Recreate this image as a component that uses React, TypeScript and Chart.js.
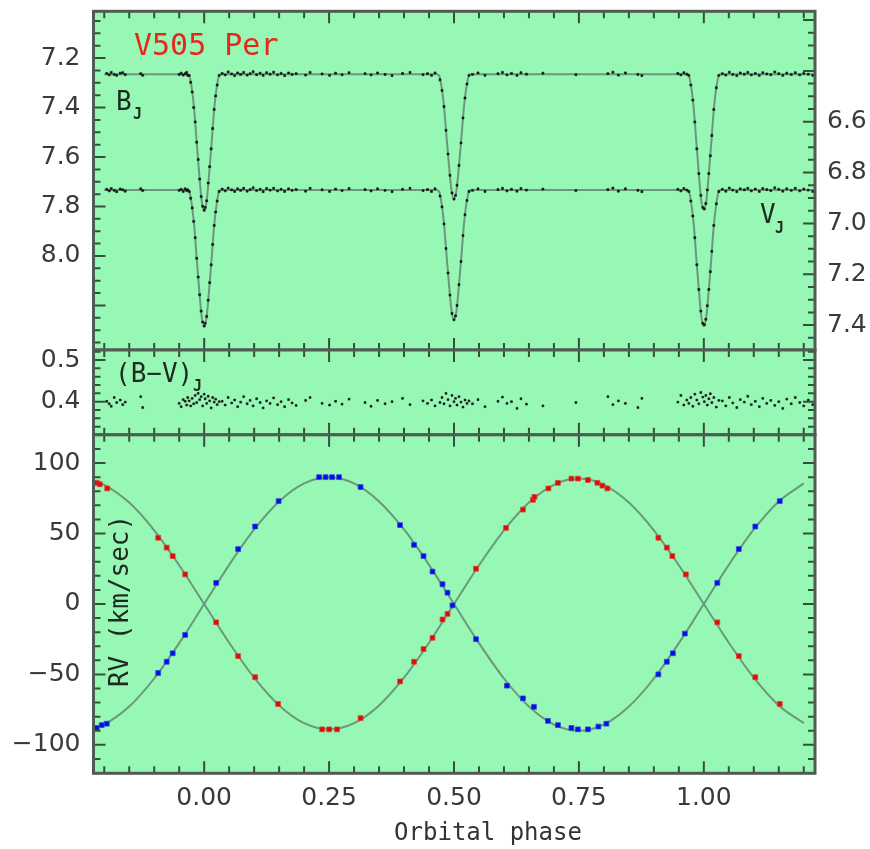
import React, { useEffect, useRef } from "react";
import { Chart, registerables } from "chart.js";

Chart.register(...registerables);

// ---------------- data ----------------
const phaseMin = -0.2215;
const phaseMax = 1.2225;
const phaseTicks = [0, 0.25, 0.5, 0.75, 1.0];

// light curves (top panel)
const bAxisMin = 7.011;
const bAxisMax = 8.38;
const bTicks = [7.2, 7.4, 7.6, 7.8, 8.0];
const vAxisMin = 6.1655;
const vAxisMax = 7.498;
const vTicks = [6.6, 6.8, 7.0, 7.2, 7.4];

const lcPhase = [
  -0.195, -0.19, -0.186, -0.18, -0.175, -0.168, -0.163, -0.158, -0.127, -0.123,
  -0.05, -0.046, -0.042, -0.038, -0.035, -0.033,
  -0.03, -0.027, -0.024, -0.021, -0.018, -0.015, -0.012, -0.009, -0.006, -0.003, 0, 0.002, 0.005, 0.008, 0.011, 0.014, 0.017, 0.02, 0.023, 0.026, 0.03,
  0.036, 0.042, 0.048, 0.055, 0.061, 0.067, 0.073, 0.079, 0.086, 0.092, 0.098, 0.105, 0.112, 0.118, 0.125, 0.132, 0.139, 0.147, 0.154, 0.161, 0.169, 0.176, 0.184, 0.203, 0.212, 0.236, 0.251, 0.263, 0.276, 0.29, 0.322, 0.334, 0.347, 0.362, 0.376, 0.397, 0.412, 0.438, 0.447, 0.455, 0.462,
  0.472, 0.476, 0.48, 0.484, 0.488, 0.492, 0.496, 0.5, 0.503, 0.506, 0.51, 0.514, 0.518, 0.522, 0.526, 0.53,
  0.537, 0.548, 0.562, 0.588, 0.597, 0.606, 0.615, 0.626, 0.634, 0.645, 0.678, 0.744, 0.808, 0.818, 0.829, 0.843, 0.868, 0.876, 0.948, 0.954, 0.96, 0.966,
  0.97, 0.974, 0.978, 0.982, 0.986, 0.99, 0.994, 0.998, 1.001, 1.004, 1.007, 1.01, 1.013, 1.016, 1.02, 1.025, 1.03,
  1.037, 1.044, 1.051, 1.058, 1.066, 1.073, 1.081, 1.088, 1.095, 1.103, 1.111, 1.118, 1.126, 1.134, 1.142, 1.15, 1.158, 1.166, 1.175, 1.183, 1.192, 1.2, 1.209, 1.218,
];

const bMag = [
  7.262, 7.268, 7.258, 7.266, 7.27, 7.261, 7.259, 7.267, 7.263, 7.27,
  7.266, 7.261, 7.269, 7.263, 7.258, 7.27,
  7.27, 7.298, 7.337, 7.4, 7.458, 7.54, 7.61, 7.689, 7.76, 7.799, 7.815, 7.804, 7.777, 7.705, 7.639, 7.567, 7.485, 7.408, 7.353, 7.309, 7.27,
  7.262, 7.268, 7.256, 7.264, 7.271, 7.26, 7.266, 7.258, 7.269, 7.263, 7.255, 7.267, 7.261, 7.27, 7.259, 7.265, 7.257, 7.268, 7.262, 7.271, 7.26, 7.266, 7.263, 7.269, 7.258, 7.264, 7.27, 7.261, 7.267, 7.259, 7.263, 7.268, 7.26, 7.266, 7.271, 7.262, 7.258, 7.267, 7.263, 7.27, 7.26,
  7.288, 7.331, 7.396, 7.492, 7.588, 7.674, 7.745, 7.77, 7.755, 7.714, 7.634, 7.543, 7.442, 7.361, 7.305, 7.27,
  7.266, 7.26, 7.27, 7.263, 7.258, 7.268, 7.262, 7.27, 7.259, 7.265, 7.261, 7.267, 7.263, 7.257, 7.269, 7.26, 7.266, 7.271, 7.262, 7.268, 7.259, 7.265,
  7.27, 7.309, 7.37, 7.458, 7.567, 7.667, 7.755, 7.804, 7.81, 7.788, 7.733, 7.667, 7.595, 7.513, 7.408, 7.32, 7.27,
  7.263, 7.269, 7.257, 7.266, 7.271, 7.26, 7.265, 7.258, 7.268, 7.262, 7.27, 7.259, 7.264, 7.267, 7.256, 7.263, 7.27, 7.261, 7.266, 7.259, 7.268, 7.262, 7.265, 7.27,
];

const vMag = [
  6.866, 6.872, 6.863, 6.87, 6.875, 6.865, 6.868, 6.873, 6.864, 6.871,
  6.87, 6.866, 6.874, 6.864, 6.871, 6.868,
  6.874, 6.901, 6.939, 6.992, 7.056, 7.137, 7.211, 7.281, 7.345, 7.388, 7.404, 7.393, 7.366, 7.302, 7.233, 7.163, 7.083, 7.008, 6.955, 6.912, 6.874,
  6.865, 6.872, 6.861, 6.868, 6.874, 6.864, 6.87, 6.862, 6.873, 6.867, 6.86, 6.871, 6.866, 6.875, 6.863, 6.869, 6.862, 6.872, 6.866, 6.874, 6.864, 6.87, 6.867, 6.873, 6.862, 6.868, 6.874, 6.865, 6.871, 6.863, 6.867, 6.872, 6.864, 6.87, 6.875, 6.866, 6.862, 6.871, 6.867, 6.874, 6.864,
  6.892, 6.935, 7.002, 7.099, 7.195, 7.282, 7.354, 7.379, 7.364, 7.323, 7.241, 7.15, 7.048, 6.966, 6.91, 6.874,
  6.87, 6.864, 6.874, 6.867, 6.862, 6.872, 6.866, 6.873, 6.863, 6.869, 6.865, 6.871, 6.867, 6.861, 6.873, 6.864, 6.87, 6.875, 6.866, 6.872, 6.863, 6.869,
  6.874, 6.912, 6.971, 7.056, 7.163, 7.26, 7.345, 7.393, 7.399, 7.377, 7.324, 7.26, 7.19, 7.11, 7.008, 6.923, 6.874,
  6.866, 6.873, 6.861, 6.869, 6.875, 6.864, 6.868, 6.862, 6.872, 6.865, 6.874, 6.863, 6.867, 6.871, 6.86, 6.866, 6.873, 6.864, 6.87, 6.862, 6.872, 6.865, 6.869, 6.874,
];

// (B-V) colour index (middle panel)
const bvAxisMin = 0.3206;
const bvAxisMax = 0.524;
const bvTicks = [0.4, 0.5];
const bvIndex = [
  0.401, 0.395, 0.389, 0.41, 0.398, 0.404, 0.393, 0.399, 0.412, 0.386,
  0.396, 0.388, 0.405, 0.401, 0.392, 0.41,
  0.402, 0.39, 0.408, 0.395, 0.415, 0.398, 0.42, 0.405, 0.412, 0.39, 0.418, 0.407, 0.396, 0.413, 0.402, 0.385, 0.41, 0.399, 0.406, 0.393, 0.4,
  0.401, 0.392, 0.41, 0.397, 0.404, 0.388, 0.399, 0.412, 0.395, 0.403, 0.39, 0.407, 0.398, 0.385, 0.402, 0.396, 0.409, 0.393, 0.4, 0.388, 0.405, 0.397, 0.391, 0.403, 0.41, 0.396, 0.392, 0.401, 0.394, 0.406, 0.398, 0.389, 0.403, 0.395, 0.4, 0.408, 0.393, 0.402, 0.396, 0.404, 0.39,
  0.398, 0.41, 0.395, 0.42, 0.405, 0.39, 0.415, 0.4, 0.408, 0.392, 0.412, 0.399, 0.387, 0.404, 0.396, 0.402,
  0.395, 0.405, 0.388, 0.401, 0.411, 0.396, 0.4, 0.384, 0.407, 0.394, 0.39, 0.398, 0.412, 0.393, 0.402, 0.396, 0.386, 0.408, 0.399, 0.415, 0.392, 0.404,
  0.396, 0.41, 0.389, 0.418, 0.404, 0.395, 0.422, 0.411, 0.4, 0.415, 0.392, 0.407, 0.419, 0.398, 0.41, 0.387, 0.403,
  0.402, 0.39, 0.41, 0.397, 0.386, 0.405, 0.399, 0.413, 0.393, 0.401, 0.388, 0.408, 0.396, 0.403, 0.391, 0.4, 0.384, 0.406, 0.395, 0.41, 0.398, 0.39, 0.404, 0.393,
];

// fitted light-curve models
const lcModelPhase = [
  -0.2,
  -0.035, -0.03, -0.025, -0.02, -0.015, -0.01, -0.005, 0, 0.005, 0.01, 0.015, 0.02, 0.025, 0.03, 0.035,
  0.465, 0.47, 0.475, 0.48, 0.485, 0.49, 0.495, 0.5, 0.505, 0.51, 0.515, 0.52, 0.525, 0.53, 0.535,
  0.965, 0.97, 0.975, 0.98, 0.985, 0.99, 0.995, 1.0, 1.005, 1.01, 1.015, 1.02, 1.025, 1.03, 1.035,
  1.2225,
];
const bModel = [
  7.265,
  7.265, 7.271, 7.32, 7.408, 7.54, 7.667, 7.777, 7.815, 7.777, 7.667, 7.54, 7.408, 7.32, 7.271, 7.265,
  7.265, 7.27, 7.316, 7.396, 7.518, 7.634, 7.735, 7.77, 7.735, 7.634, 7.518, 7.396, 7.316, 7.27, 7.265,
  7.265, 7.271, 7.32, 7.408, 7.54, 7.667, 7.777, 7.812, 7.777, 7.667, 7.54, 7.408, 7.32, 7.271, 7.265,
  7.265,
];
const vModel = [
  6.869,
  6.869, 6.874, 6.923, 7.008, 7.137, 7.26, 7.367, 7.404, 7.367, 7.26, 7.137, 7.008, 6.923, 6.874, 6.869,
  6.869, 6.874, 6.92, 7.002, 7.124, 7.241, 7.343, 7.379, 7.343, 7.241, 7.124, 7.002, 6.92, 6.874, 6.869,
  6.869, 6.874, 6.923, 7.008, 7.137, 7.26, 7.367, 7.404, 7.367, 7.26, 7.137, 7.008, 6.923, 6.874, 6.869,
  6.869,
];

// radial velocities (bottom panel)
const rvAxisMin = -120.2;
const rvAxisMax = 120.1;
const rvTicks = [-100, -50, 0, 50, 100];

const rvPrimaryPhase = [
  -0.215, -0.209, -0.194, -0.092, -0.075, -0.063, -0.038, 0.024, 0.068, 0.102, 0.148,
  0.236, 0.25, 0.266, 0.313, 0.392, 0.42, 0.439, 0.457, 0.477, 0.487,
  0.544, 0.604, 0.638, 0.658, 0.661, 0.689, 0.708, 0.735, 0.748, 0.768, 0.787, 0.797, 0.807,
  0.909, 0.926, 0.937, 0.964, 1.027, 1.07, 1.103, 1.152,
];
const rvPrimary = [
  86, 85, 82, 47, 40, 34, 21, -13, -37, -52, -71,
  -89, -89, -89, -81, -55, -41, -32, -24, -11, -7,
  25, 54, 67, 74, 76, 82, 86, 89, 89, 88, 86, 84, 82,
  47, 40, 34, 21, -13, -37, -52, -71,
];
const rvSecondaryPhase = [
  -0.215, -0.205, -0.195, -0.092, -0.075, -0.063, -0.038, 0.024, 0.068, 0.102, 0.149,
  0.23, 0.243, 0.256, 0.27, 0.313, 0.392, 0.42, 0.439, 0.457, 0.477, 0.487, 0.497,
  0.544, 0.606, 0.638, 0.66, 0.688, 0.708, 0.735, 0.748, 0.768, 0.789, 0.805,
  0.909, 0.926, 0.938, 0.962, 1.027, 1.07, 1.103, 1.152,
];
const rvSecondary = [
  -88, -86, -85, -49, -41, -35, -22, 15, 39, 55, 73,
  90, 90, 90, 90, 83, 56, 42, 34, 23, 14, 8, -1,
  -25, -58, -67, -73, -83, -86, -88, -89, -89, -87, -85,
  -50, -41, -35, -21, 15, 39, 55, 73,
];

const rvModelPhase = [
  -0.22, -0.2, -0.15, -0.1, -0.05, 0, 0.05, 0.1, 0.15, 0.2, 0.25, 0.3, 0.35, 0.4, 0.45, 0.5,
  0.55, 0.6, 0.65, 0.7, 0.75, 0.8, 0.85, 0.9, 0.95, 1.0, 1.05, 1.1, 1.15, 1.2,
];
const rvModelPrimary = [
  87.4, 84.6, 72.0, 52.3, 27.5, 0, -27.5, -52.3, -72.0, -84.6, -89, -84.6, -72.0, -52.3, -27.5, 0,
  27.5, 52.3, 72.0, 84.6, 89, 84.6, 72.0, 52.3, 27.5, 0, -27.5, -52.3, -72.0, -84.6,
];
const rvModelSecondary = [
  -88.4, -85.6, -72.8, -52.9, -27.8, 0, 27.8, 52.9, 72.8, 85.6, 90, 85.6, 72.8, 52.9, 27.8, 0,
  -27.8, -52.9, -72.8, -85.6, -90, -85.6, -72.8, -52.9, -27.8, 0, 27.8, 52.9, 72.8, 85.6,
];

// ---------------- styling ----------------
const W = 870;
const H = 849;
const BG = "#96f8b4";
const FRAME = "#4e5c52";
const TICK = "#34503d";
const LABEL = "#3a3a3a";
const CURVE = "#6a987a";
const INK = "#1e2a22";
const SANS = "'DejaVu Sans', 'Liberation Sans', sans-serif";
const MONO = "'DejaVu Sans Mono', 'Liberation Mono', monospace";
const tickFont = { family: SANS, size: 25 };

function pts(xs: number[], ys: number[]) {
  const n = Math.min(xs.length, ys.length);
  const out: { x: number; y: number }[] = [];
  for (let i = 0; i < n; i++) out.push({ x: xs[i], y: ys[i] });
  return out;
}

function stepValues(min: number, max: number, step: number) {
  const out: number[] = [];
  const start = Math.ceil(min / step - 1e-9);
  for (let k = start; k * step <= max + 1e-9; k++) out.push(k * step);
  return out;
}
const isMajor = (v: number, major: number) => Math.abs(v / major - Math.round(v / major)) < 1e-6;

type Txt = { text: string; x: number; y: number; font: string; color: string; align?: CanvasTextAlign; baseline?: CanvasTextBaseline; rotate?: number };
type PanelCfg = {
  left: { id: string; minor: number; major: number };
  right: { id: string; minor: number; major: number };
  xMinor: number;
  xMajor: number;
  texts: Txt[];
};

function panelPlugin(id: string, cfg: PanelCfg) {
  return {
    id,
    beforeDraw(chart: any) {
      const a = chart.chartArea;
      const ctx = chart.ctx;
      ctx.save();
      ctx.fillStyle = BG;
      ctx.fillRect(a.left, a.top, a.right - a.left, a.bottom - a.top);
      ctx.restore();
    },
    afterDraw(chart: any) {
      const a = chart.chartArea;
      const ctx = chart.ctx;
      ctx.save();
      // ticks
      ctx.strokeStyle = TICK;
      ctx.lineWidth = 2;
      ctx.beginPath();
      const xs = chart.scales.x;
      for (const v of stepValues(xs.min, xs.max, cfg.xMinor)) {
        const px = xs.getPixelForValue(v);
        const len = isMajor(v, cfg.xMajor) ? 12 : 7;
        ctx.moveTo(px, a.top);
        ctx.lineTo(px, a.top + len);
        ctx.moveTo(px, a.bottom);
        ctx.lineTo(px, a.bottom - len);
      }
      const ls = chart.scales[cfg.left.id];
      for (const v of stepValues(ls.min, ls.max, cfg.left.minor)) {
        const py = ls.getPixelForValue(v);
        const len = isMajor(v, cfg.left.major) ? 12 : 7;
        ctx.moveTo(a.left, py);
        ctx.lineTo(a.left + len, py);
      }
      const rs = chart.scales[cfg.right.id];
      for (const v of stepValues(rs.min, rs.max, cfg.right.minor)) {
        const py = rs.getPixelForValue(v);
        const len = isMajor(v, cfg.right.major) ? 12 : 7;
        ctx.moveTo(a.right, py);
        ctx.lineTo(a.right - len, py);
      }
      ctx.stroke();
      // frame
      ctx.strokeStyle = FRAME;
      ctx.lineWidth = 3;
      ctx.strokeRect(a.left, a.top, a.right - a.left, a.bottom - a.top);
      // texts
      for (const t of cfg.texts) {
        ctx.save();
        ctx.font = t.font;
        ctx.fillStyle = t.color;
        ctx.textAlign = t.align || "left";
        ctx.textBaseline = t.baseline || "alphabetic";
        ctx.translate(t.x, t.y);
        if (t.rotate) ctx.rotate(t.rotate);
        ctx.fillText(t.text, 0, 0);
        ctx.restore();
      }
      ctx.restore();
    },
  };
}

function yAxis(min: number, max: number, ticks: number[], reverse: boolean, position: "left" | "right", width: number, digits: number, padding: number) {
  return {
    type: "linear",
    position,
    min,
    max,
    reverse,
    grid: { display: false, drawTicks: false },
    border: { display: false },
    ticks: {
      font: tickFont,
      color: LABEL,
      padding,
      autoSkip: false,
      callback: (v: number) => (v < 0 ? "\u2212" + Math.abs(v).toFixed(digits) : v.toFixed(digits)),
    },
    afterBuildTicks: (s: any) => {
      s.ticks = ticks.map((v) => ({ value: v }));
    },
    afterFit: (s: any) => {
      s.width = width;
      s.paddingTop = 0;
      s.paddingBottom = 0;
    },
  };
}

function hiddenX() {
  return { type: "linear", display: false, min: phaseMin, max: phaseMax };
}

const baseOptions = {
  responsive: false,
  animation: false,
  events: [],
  plugins: { legend: { display: false }, tooltip: { enabled: false } },
};

function lineDs(data: any[], yAxisID: string) {
  return {
    data,
    yAxisID,
    showLine: true,
    borderColor: CURVE,
    borderWidth: 2,
    pointRadius: 0,
    cubicInterpolationMode: "monotone",
    order: 2,
  };
}
function dotDs(data: any[], yAxisID: string, color: string, radius: number, border: string) {
  return {
    data,
    yAxisID,
    showLine: false,
    pointStyle: "rect",
    pointRadius: radius,
    backgroundColor: color,
    borderColor: border,
    borderWidth: 1,
    order: 1,
  };
}

const SUB = `bold 15px ${MONO}`;

function topConfig(): any {
  return {
    type: "scatter",
    data: {
      datasets: [
        dotDs(pts(lcPhase, bMag), "y", "#111", 1.4, "rgba(20,20,20,0.6)"),
        dotDs(pts(lcPhase, vMag), "y2", "#111", 1.4, "rgba(20,20,20,0.6)"),
        lineDs(pts(lcModelPhase, bModel), "y"),
        lineDs(pts(lcModelPhase, vModel), "y2"),
      ],
    },
    options: {
      ...baseOptions,
      layout: { padding: { top: 11.3, bottom: H - 350, left: 0, right: 0 } },
      scales: {
        x: hiddenX(),
        y: yAxis(bAxisMin, bAxisMax, bTicks, true, "left", 93.5, 1, 13),
        y2: yAxis(vAxisMin, vAxisMax, vTicks, true, "right", W - 815, 1, 12),
      },
    },
    plugins: [
      panelPlugin("panelTop", {
        left: { id: "y", minor: 0.05, major: 0.2 },
        right: { id: "y2", minor: 0.05, major: 0.2 },
        xMinor: 0.05,
        xMajor: 0.25,
        texts: [
          { text: "V505 Per", x: 134, y: 55, font: `30px ${MONO}`, color: "#e8261e" },
          { text: "B", x: 116, y: 110, font: `26px ${MONO}`, color: INK },
          { text: "J", x: 133, y: 119, font: SUB, color: INK },
          { text: "V", x: 760, y: 223, font: `26px ${MONO}`, color: INK },
          { text: "J", x: 775, y: 233, font: SUB, color: INK },
        ],
      }),
    ],
  };
}

function midConfig(): any {
  return {
    type: "scatter",
    data: {
      datasets: [dotDs(pts(lcPhase, bvIndex), "y", "#111", 1.3, "rgba(20,20,20,0.6)")],
    },
    options: {
      ...baseOptions,
      layout: { padding: { top: 350, bottom: H - 434.8, left: 0, right: W - 815 } },
      scales: {
        x: hiddenX(),
        y: yAxis(bvAxisMin, bvAxisMax, bvTicks, false, "left", 93.5, 1, 13),
      },
    },
    plugins: [
      panelPlugin("panelMid", {
        left: { id: "y", minor: 0.02, major: 0.1 },
        right: { id: "y", minor: 0.02, major: 0.1 },
        xMinor: 0.05,
        xMajor: 0.25,
        texts: [
          { text: "(B\u2212V)", x: 115, y: 382, font: `26px ${MONO}`, color: INK },
          { text: "J", x: 193, y: 391, font: SUB, color: INK },
        ],
      }),
    ],
  };
}

function rvConfig(): any {
  return {
    type: "scatter",
    data: {
      datasets: [
        dotDs(pts(rvPrimaryPhase, rvPrimary), "y", "#e00a0a", 3.4, "rgba(210,70,50,0.8)"),
        dotDs(pts(rvSecondaryPhase, rvSecondary), "y", "#0a0ae6", 3.4, "rgba(40,70,220,0.8)"),
        lineDs(pts(rvModelPhase, rvModelPrimary), "y"),
        lineDs(pts(rvModelPhase, rvModelSecondary), "y"),
      ],
    },
    options: {
      ...baseOptions,
      layout: { padding: { top: 434.8, bottom: 0, left: 0, right: W - 815 } },
      scales: {
        x: {
          type: "linear",
          position: "bottom",
          min: phaseMin,
          max: phaseMax,
          grid: { display: false, drawTicks: false },
          border: { display: false },
          ticks: {
            font: tickFont,
            color: LABEL,
            padding: 10,
            autoSkip: false,
            maxRotation: 0,
            callback: (v: number) => v.toFixed(2),
          },
          afterBuildTicks: (s: any) => {
            s.ticks = phaseTicks.map((v) => ({ value: v }));
          },
          afterFit: (s: any) => {
            s.height = H - 773.3;
            s.paddingLeft = 0;
            s.paddingRight = 0;
          },
        },
        y: yAxis(rvAxisMin, rvAxisMax, rvTicks, false, "left", 93.5, 0, 13),
      },
    },
    plugins: [
      panelPlugin("panelRv", {
        left: { id: "y", minor: 10, major: 50 },
        right: { id: "y", minor: 10, major: 50 },
        xMinor: 0.05,
        xMajor: 0.25,
        texts: [
          { text: "RV (km/sec)", x: 121, y: 601, font: `26px ${MONO}`, color: INK, align: "center", baseline: "middle", rotate: -Math.PI / 2 },
          { text: "Orbital phase", x: 488, y: 834, font: `24px ${MONO}`, color: "#333", align: "center", baseline: "middle" },
        ],
      }),
    ],
  };
}

const canvasStyle: React.CSSProperties = { position: "absolute", left: 0, top: 0, width: W, height: H };

export default function App() {
  const r1 = useRef<HTMLCanvasElement>(null);
  const r2 = useRef<HTMLCanvasElement>(null);
  const r3 = useRef<HTMLCanvasElement>(null);

  useEffect(() => {
    const charts: Chart[] = [];
    if (r1.current) charts.push(new Chart(r1.current, topConfig()));
    if (r2.current) charts.push(new Chart(r2.current, midConfig()));
    if (r3.current) charts.push(new Chart(r3.current, rvConfig()));
    return () => charts.forEach((c) => c.destroy());
  }, []);

  return (
    <div style={{ position: "absolute", left: 0, top: 0, width: W, height: H, background: "#fff" }}>
      <canvas ref={r1} width={W} height={H} style={canvasStyle} />
      <canvas ref={r2} width={W} height={H} style={canvasStyle} />
      <canvas ref={r3} width={W} height={H} style={canvasStyle} />
    </div>
  );
}
